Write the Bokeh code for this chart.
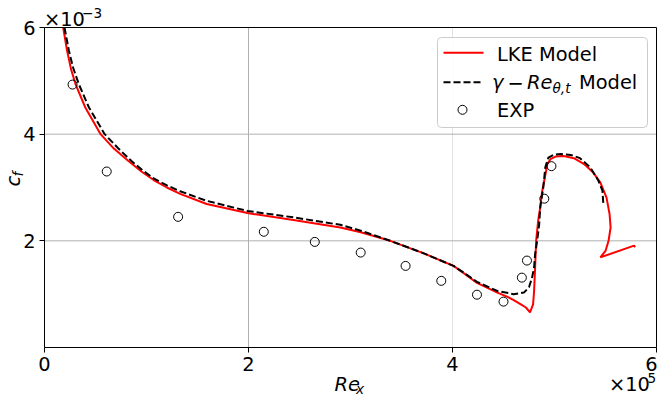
import math
from bokeh.plotting import figure
from bokeh.models import Label, FixedTicker, LinearAxis, Range1d
from bokeh.embed import file_html
from bokeh.resources import INLINE

# Skin-friction coefficient c_f (units of 1e-3) along the plate, Re_x (units of 1e5)
lke_rex = [0.183, 0.222, 0.26, 0.304, 0.40, 0.55, 0.68, 0.82, 0.95, 1.07, 1.20, 1.33,
           1.59, 1.99, 2.44, 2.90, 3.10, 3.39, 3.70, 4.01, 4.12, 4.24, 4.44, 4.54,
           4.60, 4.67, 4.72, 4.76, 4.79, 4.80, 4.81, 4.82, 4.84, 4.86, 4.88, 4.90,
           4.93, 4.96, 5.01, 5.09, 5.19, 5.29, 5.38, 5.45, 5.51, 5.54, 5.55, 5.53,
           5.50, 5.45, 5.78, 5.79]
lke_cf = [6.00, 5.56, 5.22, 4.94, 4.50, 4.00, 3.73, 3.50, 3.30, 3.14, 3.00, 2.88,
          2.69, 2.52, 2.39, 2.25, 2.16, 2.00, 1.78, 1.53, 1.38, 1.21, 1.03, 0.95,
          0.89, 0.81, 0.75, 0.66, 0.81, 1.06, 1.50, 2.00, 2.38, 2.63, 2.94, 3.13,
          3.44, 3.53, 3.58, 3.59, 3.55, 3.44, 3.28, 3.09, 2.81, 2.50, 2.25, 2.00,
          1.81, 1.69, 1.91, 1.88]

gamma_rex = [0.196, 0.24, 0.28, 0.336, 0.436, 0.59, 0.72, 0.85, 0.95, 1.07, 1.20, 1.33,
             1.59, 1.99, 2.44, 2.90, 3.10, 3.39, 3.70, 4.01, 4.12, 4.24, 4.44, 4.60,
             4.70, 4.75, 4.78, 4.80, 4.81, 4.83, 4.85, 4.86, 4.89, 4.91, 4.94, 4.99,
             5.06, 5.16, 5.25, 5.35, 5.43, 5.47, 5.48]
gamma_cf = [6.00, 5.56, 5.25, 4.94, 4.50, 4.00, 3.74, 3.50, 3.34, 3.17, 3.04, 2.93,
            2.75, 2.56, 2.44, 2.30, 2.19, 2.00, 1.78, 1.53, 1.39, 1.23, 1.06, 1.00,
            1.03, 1.13, 1.31, 1.50, 1.75, 2.00, 2.31, 2.63, 3.00, 3.38, 3.56, 3.61,
            3.63, 3.61, 3.55, 3.38, 3.13, 2.94, 2.66]

exp_rex = [0.275, 0.61, 1.31, 2.15, 2.65, 3.10, 3.54, 3.89, 4.24, 4.50, 4.68, 4.73, 4.90, 4.97]
exp_cf = [4.93, 3.30, 2.45, 2.17, 1.98, 1.78, 1.53, 1.25, 0.99, 0.86, 1.31, 1.63, 2.79, 3.40]

x_ticks = [0, 2, 4, 6]
y_ticks = [2, 4, 6]
x_grid = [2, 4]
x_grid_colors = ["#b0b0b0", "#e2e2e2"]
y_grid = [2, 4]

W, H = 657, 398
BOX_L, BOX_R, BOX_T, BOX_B = 44, 656, 27, 347     # plot box on the canvas
XR, YR = (0, 6), (0, 6)
KX = (BOX_R - BOX_L) / (XR[1] - XR[0])
KY = (BOX_B - BOX_T) / (YR[1] - YR[0])
FONT = "DejaVu Sans"
BIG, SMALL = 19.4, 13.6          # font sizes in px


def cx(px):
    return XR[0] + (px - BOX_L) / KX


def cy(py):
    return YR[1] - (py - BOX_T) / KY


p = figure(width=W, height=H,
           x_range=Range1d(cx(0), cx(W)), y_range=Range1d(cy(H), cy(0)),
           output_backend="svg", toolbar_location=None,
           min_border_left=0, min_border_right=0, min_border_top=0, min_border_bottom=0)
p.background_fill_color = "white"
p.border_fill_color = "white"
p.outline_line_color = None
p.grid.visible = False


def style_axis(ax, ticks, bounds):
    ax.ticker = FixedTicker(ticks=ticks)
    ax.bounds = bounds
    ax.major_label_text_font = FONT
    ax.major_label_text_font_size = f"{BIG}px"
    ax.major_label_text_color = "black"
    ax.major_tick_out = 5
    ax.major_tick_in = 0
    ax.minor_tick_line_color = None
    ax.axis_line_color = "black"
    ax.axis_line_width = 1
    ax.major_tick_line_color = "black"
    ax.major_label_standoff = 4


p.xaxis.fixed_location = YR[0]
p.yaxis.fixed_location = XR[0]
style_axis(p.xaxis[0], x_ticks, XR)
style_axis(p.yaxis[0], y_ticks, YR)

# closing edges of the box
for loc, bnds, side in ((YR[1], XR, "above"), (XR[1], YR, "right")):
    p.add_layout(LinearAxis(fixed_location=loc, bounds=bnds, ticker=FixedTicker(ticks=[]),
                            axis_line_color="black", axis_line_width=1,
                            major_tick_line_color=None, minor_tick_line_color=None,
                            major_label_text_font_size="0px"), side)

# grid lines
p.segment(x0=x_grid, y0=[YR[0]] * len(x_grid), x1=x_grid, y1=[YR[1]] * len(x_grid),
          line_color=x_grid_colors, line_width=1, level="underlay")
p.segment(x0=[XR[0]] * len(y_grid), y0=y_grid, x1=[XR[1]] * len(y_grid), y1=y_grid,
          line_color="#b0b0b0", line_width=1, level="underlay")

p.line(lke_rex, lke_cf, line_color="#ff0000", line_width=2)
p.line(gamma_rex, gamma_cf, line_color="black", line_width=2, line_dash="7 3")
p.scatter(exp_rex, exp_cf, marker="circle", size=9, fill_color=None,
          line_color="black", line_width=1)

# legend box and samples
p.quad(left=[cx(437)], right=[cx(647)], top=[cy(37)], bottom=[cy(127)],
       fill_color="white", fill_alpha=0.85, line_color="#cccccc", line_width=1,
       border_radius=4)
p.line([cx(443), cx(483)], [cy(52.3)] * 2, line_color="#ff0000", line_width=2)
p.line([cx(443), cx(483)], [cy(81.7)] * 2, line_color="black", line_width=2, line_dash="7 3")
p.scatter([cx(462)], [cy(109.3)], marker="circle", size=9, fill_color=None,
          line_color="black", line_width=1)


def txt(px, py, s, size=BIG, style="normal", rotated=False):
    # (px, py): left end of the text baseline on the canvas; the drawn
    # baseline sits about a quarter em below the anchor, so lift it back
    lift = 0.24 * size
    if rotated:
        px -= lift
    else:
        py -= lift
    p.add_layout(Label(x=cx(px), y=cy(py), text=s, text_font=FONT,
                       text_font_size=f"{size}px", text_font_style=style,
                       text_color="black", angle=math.pi / 2 if rotated else 0.0,
                       text_align="left", text_baseline="alphabetic"))


txt(496.5, 59, "LKE Model")
txt(491.5, 86.7, "γ", style="italic")
txt(507, 86.7, "−")
txt(526.5, 86.7, "Re", style="italic")
txt(552, 91, "θ,t", size=SMALL, style="italic")
txt(578.5, 86.7, "Model")
txt(496.5, 115, "EXP")

# axis titles
txt(334, 388.5, "Re", style="italic")
txt(355.5, 392, "x", size=SMALL, style="italic")
txt(17.5, 186, "c", style="italic", rotated=True)
txt(20.5, 176, "f", size=SMALL, style="italic", rotated=True)

# scale factors of the axes
txt(43.5, 24, "×10")
txt(81.5, 16, "−3", size=SMALL)
txt(608.5, 389, "×10")
txt(647, 381, "5", size=SMALL)

open("out.html", "w").write(file_html(p, INLINE))
